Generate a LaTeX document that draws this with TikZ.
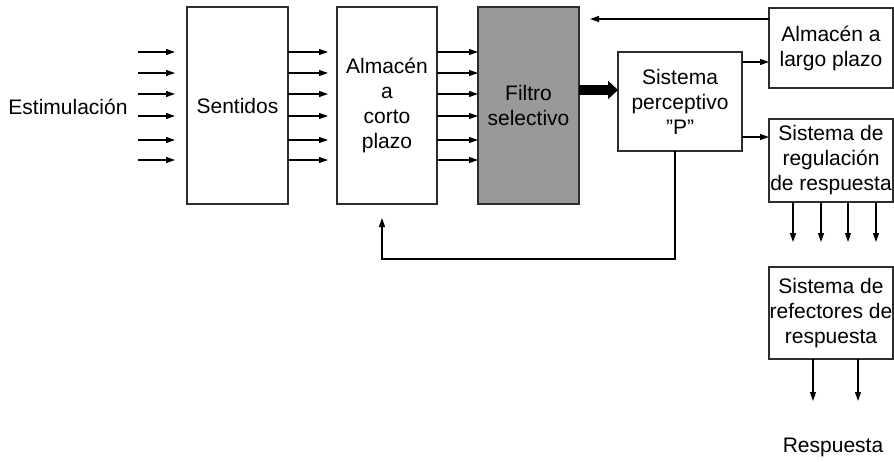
\documentclass[tikz,border=0pt]{standalone}
\usepackage{fontspec}
\setmainfont{Liberation Sans}
\usetikzlibrary{arrows.meta}
\definecolor{edge}{RGB}{45,45,45}
\definecolor{filtgray}{RGB}{153,153,153}
\begin{document}
\begin{tikzpicture}[x=1pt,y=-1pt,
  box/.style={draw=edge, line width=1.3pt, inner sep=0pt, outer sep=0pt, align=center, font=\fontsize{21}{25}\selectfont},
  lbl/.style={inner sep=0pt, font=\fontsize{21}{25}\selectfont},
  arr/.style={draw=black, line width=1.1pt, -{Triangle[length=9pt,width=6pt]}},
  bigarr/.style={draw=black, line width=10pt, -{Triangle[length=10pt,width=18pt]}}]
\useasboundingbox (0,0) rectangle (894,461);
% boxes
\node[box, minimum width=101pt, minimum height=197pt] (sent) at (237.5,105.5) {Sentidos};
\node[box, minimum width=100pt, minimum height=197pt] (ac) at (387,105.5) {Almacén\\a\\corto\\plazo};
\node[box, fill=filtgray, minimum width=101pt, minimum height=197pt] (fil) at (528.5,105.5) {Filtro\\selectivo};
\node[box, minimum width=124pt, minimum height=99pt] (perc) at (680,101.5) {Sistema\\perceptivo\\\symbol{34}P\symbol{34}};
\node[box, minimum width=124pt, minimum height=80pt] (lar) at (831,48) {Almacén a\\largo plazo};
\node[box, minimum width=124pt, minimum height=83pt] (reg) at (831,160.5) {Sistema de\\regulación\\de respuesta};
\node[box, minimum width=124pt, minimum height=92pt] (ref) at (831,313) {Sistema de\\refectores de\\respuesta};
\node[lbl] (est) at (68,107) {Estimulación};
\node[lbl] (resp) at (833,447) {Respuesta};
% input arrows and inter-box arrows
\foreach \i/\y in {1/52,2/73,3/94,4/116,5/140,6/160}{
  \coordinate (ina\i) at (138,\y);
  \coordinate (inb\i) at (175,\y);
  \draw[arr] (ina\i) -- (inb\i);
  \coordinate (sa\i) at (328,\y);
  \draw[arr] (sa\i -| sent.east) -- (sa\i);
  \coordinate (af\i) at (458,\y);
  \draw[arr] (af\i -| ac.east) -- (af\i -| fil.west);
}
% thick arrow
\coordinate (thk) at (600,90);
\draw[bigarr] (thk -| fil.east) -- (thk -| perc.west);
% top return arrow
\coordinate (tl) at (590,19);
\draw[arr] (tl -| lar.west) -- (tl);
% perceptivo to right boxes
\coordinate (pl) at (755,62);
\draw[arr] (pl -| perc.east) -- (pl -| lar.west);
\coordinate (pr) at (755,137);
\draw[arr] (pr -| perc.east) -- (pr -| reg.west);
% regulacion arrows
\foreach \i/\x in {1/793,2/821,3/848,4/876}{
  \coordinate (rd\i) at (\x,242);
  \draw[arr] (rd\i |- reg.south) -- (rd\i);
}
% refectores arrows
\foreach \i/\x in {1/813,2/858}{
  \coordinate (fd\i) at (\x,401);
  \draw[arr] (fd\i |- ref.south) -- (fd\i);
}
% feedback loop
\coordinate (fbA) at (675,259);
\coordinate (fbB) at (382,259);
\coordinate (fbT) at (382,218);
\draw[arr] (fbA |- perc.south) -- (fbA) -- (fbB) -- (fbT);
\end{tikzpicture}
\end{document}
